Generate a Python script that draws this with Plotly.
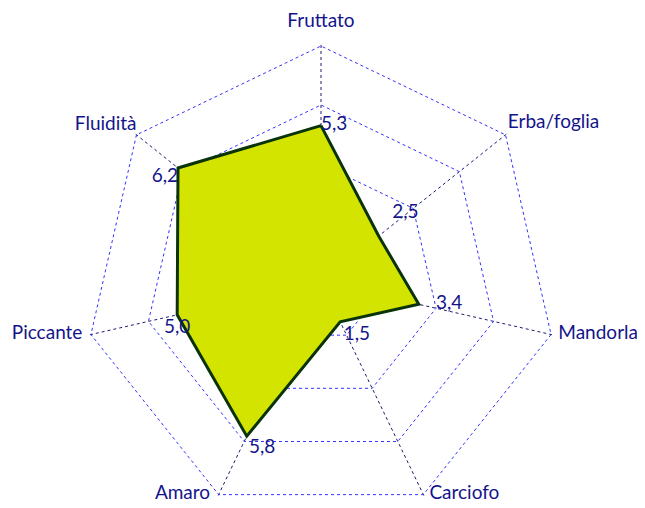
import plotly.graph_objects as go

categories = ["Fruttato", "Erba/foglia", "Mandorla", "Carciofo", "Amaro", "Piccante", "Fluidità"]
values = [5.3, 2.5, 3.4, 1.5, 5.8, 5.0, 6.2]
value_labels = ["5,3", "2,5", "3,4", "1,5", "5,8", "5,0", "6,2"]
value_label_positions = ["middle right", "top right", "middle right", "bottom right",
                         "bottom right", "bottom center", "bottom left"]
value_label_gap = [0, 20, 26, 4, 2, 4, 0]
category_label_positions = ["top center", "top right", "middle right", "middle right",
                            "middle left", "middle left", "top left"]
category_label_gap = [22, 2, 10, 8, 12, 12, 0]
ring_values = [2, 4, 6, 8]
r_max = 8
r_range = 8.05

NAVY = "#14148a"
FONT = "Lato"

r = values + [values[0]]
theta = categories + [categories[0]]
texts = value_labels + [""]
tpos = value_label_positions + ["middle right"]
tgap = value_label_gap + [0]

fig = go.Figure()
fig.add_trace(go.Scatterpolar(
    r=r, theta=theta, mode="lines+markers+text", fill="toself",
    fillcolor="#d2e400",
    line=dict(color="#0a330a", width=3),
    marker=dict(size=tgap, color="rgba(0,0,0,0)", line=dict(width=0)),
    text=texts, textposition=tpos,
    textfont=dict(family=FONT, size=19, color=NAVY),
    hoverinfo="skip", showlegend=False, cliponaxis=False,
))
# category labels next to the outer vertices
fig.add_trace(go.Scatterpolar(
    r=[r_max] * len(categories), theta=categories, mode="markers+text",
    marker=dict(size=category_label_gap, color="rgba(0,0,0,0)", line=dict(width=0)),
    text=categories, textposition=category_label_positions,
    textfont=dict(family=FONT, size=19, color=NAVY),
    hoverinfo="skip", showlegend=False, cliponaxis=False,
))

W, H = 645, 520
cx, cy = 313, 274
rad = 236 * r_range / r_max
fig.update_layout(
    width=W, height=H,
    margin=dict(l=0, r=0, t=0, b=0),
    paper_bgcolor="white", plot_bgcolor="white",
    font=dict(family=FONT, color=NAVY, size=19),
    polar=dict(
        domain=dict(x=[(cx - rad) / W, (cx + rad) / W], y=[(H - cy - rad) / H, (H - cy + rad) / H]),
        bgcolor="white",
        gridshape="linear",
        angularaxis=dict(
            direction="clockwise", rotation=90,
            categoryorder="array", categoryarray=categories,
            showline=False, showticklabels=False, ticks="",
            showgrid=True, gridcolor="#1a1a70", gridwidth=1, griddash="dot",
        ),
        radialaxis=dict(
            range=[0, r_range], tickvals=ring_values, showticklabels=False,
            ticks="", showline=False,
            showgrid=True, gridcolor="#3333ff", gridwidth=1, griddash="dot",
        ),
    ),
)

fig.write_html("out.html")
